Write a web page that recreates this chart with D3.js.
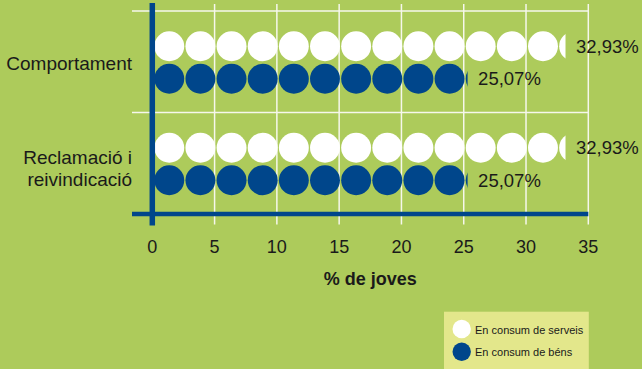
<!DOCTYPE html>
<html><head><meta charset="utf-8">
<script src="https://cdn.jsdelivr.net/npm/d3@7"></script>
<style>
html,body{margin:0;padding:0;background:#adcb5b;}
svg{display:block;font-family:"Liberation Sans",Arial,Helvetica,sans-serif;}
</style></head>
<body>
<svg id="chart" width="642" height="369"></svg>
<script>
const categories = [["Comportament"], ["Reclamació i", "reivindicació"]];
const categoryKeys = ["Comportament", "Reclamació i reivindicació"];
const serveisValues = [32.93, 32.93];
const bensValues = [25.07, 25.07];
const valueLabelsServeis = ["32,93%", "32,93%"];
const valueLabelsBens = ["25,07%", "25,07%"];
const xTicks = [0, 5, 10, 15, 20, 25, 30, 35];
const seriesNames = ["En consum de serveis", "En consum de béns"];
const unitPerIcon = 2.5;

const green = "#adcb5b", blue = "#00468b", white = "#ffffff", ink = "#1a1a1a", legendBg = "#e3e78b";

const svg = d3.select("#chart");
svg.append("rect").attr("width", 642).attr("height", 369).attr("fill", green);

const x = d3.scaleLinear().domain([0, 35]).range([152.3, 588.3]);
const y = d3.scaleBand().domain(categoryKeys).range([11, 214]).padding(0);

// vertical gridlines
svg.append("g").selectAll("line").data(xTicks.filter(d => d > 0)).join("line")
  .attr("x1", d => x(d)).attr("x2", d => x(d)).attr("y1", 4).attr("y2", 224.5)
  .attr("stroke", "#f6f7ec").attr("stroke-width", 1.5);
// horizontal band lines
svg.append("g").selectAll("line").data([y.range()[0], y(categoryKeys[1])]).join("line")
  .attr("x1", 132).attr("x2", 588.3).attr("y1", d => d).attr("y2", d => d)
  .attr("stroke", "#f6f7ec").attr("stroke-width", 1.5);

// icon rows
const rows = [];
categoryKeys.forEach((c, i) => {
  const cy = y(c) + y.bandwidth() / 2;
  rows.push({cat: c, v: serveisValues[i], cy: cy - 15.5, fill: white, label: valueLabelsServeis[i], id: "s" + i});
  rows.push({cat: c, v: bensValues[i], cy: cy + 17, fill: blue, label: valueLabelsBens[i], id: "b" + i});
});

const defs = svg.append("defs");
rows.forEach(r => {
  defs.append("clipPath").attr("id", "clip-" + r.id)
    .append("rect").attr("x", 0).attr("y", r.cy - 20).attr("width", x(r.v) + 3).attr("height", 40);
  const n = Math.ceil(r.v / unitPerIcon);
  const icons = d3.range(n);
  const iconW = x(unitPerIcon) - x(0);
  svg.append("g").attr("clip-path", "url(#clip-" + r.id + ")")
    .selectAll("circle").data(icons).join("circle")
    .attr("cx", k => x(k * unitPerIcon + unitPerIcon / 2) + 1.4)
    .attr("cy", r.cy)
    .attr("r", iconW / 2 - 0.6)
    .attr("fill", r.fill);
  svg.append("text").attr("x", x(r.v) + 13.5).attr("y", r.cy + 6.5)
    .attr("font-size", 18.5).attr("fill", ink).text(r.label);
});

// axes lines
svg.append("line").attr("x1", 132).attr("x2", 588.3).attr("y1", 214).attr("y2", 214)
  .attr("stroke", blue).attr("stroke-width", 4.5);
svg.append("line").attr("x1", x(0)).attr("x2", x(0)).attr("y1", 3).attr("y2", 225.5)
  .attr("stroke", blue).attr("stroke-width", 5.5);

// x tick labels
svg.append("g").selectAll("text").data(xTicks).join("text")
  .attr("x", d => x(d)).attr("y", 252.5).attr("text-anchor", "middle")
  .attr("font-size", 18).attr("fill", ink).text(d => d);
svg.append("text").attr("x", x(17.5)).attr("y", 284.5).attr("text-anchor", "middle")
  .attr("font-size", 18).attr("font-weight", "bold").attr("fill", ink).text("% de joves");

// category labels
categories.forEach((lines, i) => {
  const cy = y(categoryKeys[i]) + y.bandwidth() / 2;
  const t = svg.append("text").attr("text-anchor", "end").attr("font-size", 19).attr("fill", ink);
  const n = lines.length;
  lines.forEach((l, j) => {
    const base = n === 1 ? cy + 8.5 : cy + 0.5 + j * 22.5;
    t.append("tspan").attr("x", 132).attr("y", base).text(l);
  });
});

// legend
const lg = svg.append("g");
lg.append("rect").attr("x", 444).attr("y", 311.7).attr("width", 144.8).attr("height", 60).attr("fill", legendBg);
[white, blue].forEach((c, i) => {
  lg.append("circle").attr("cx", 461.7).attr("cy", 329 + i * 22.7).attr("r", 9.2).attr("fill", c);
  lg.append("text").attr("x", 475).attr("y", 333.5 + i * 22.7).attr("font-size", 11).attr("fill", ink).text(seriesNames[i]);
});
</script>
</body></html>
